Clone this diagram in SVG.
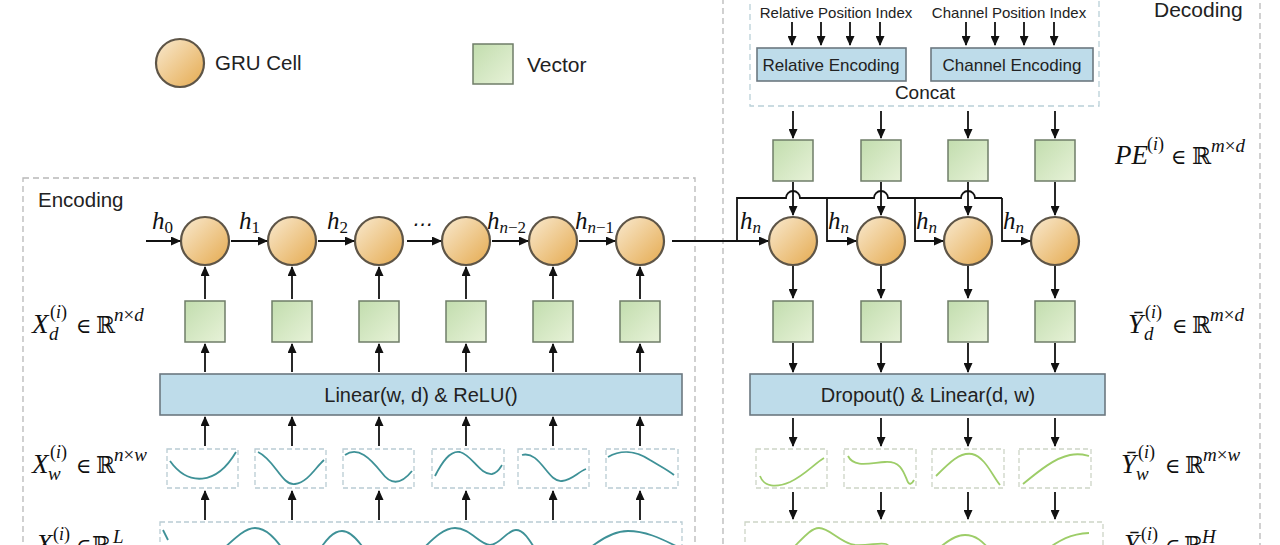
<svg xmlns="http://www.w3.org/2000/svg" width="1280" height="545" viewBox="0 0 1280 545">
<defs>
<linearGradient id="gc" x1="0" y1="0" x2="1" y2="1">
<stop offset="0" stop-color="#f9ead0"/><stop offset="1" stop-color="#e5aa4f"/>
</linearGradient>
<linearGradient id="gv" x1="0" y1="0" x2="1" y2="1">
<stop offset="0" stop-color="#c2ddae"/><stop offset="1" stop-color="#e7f2d8"/>
</linearGradient>
<marker id="ah" markerUnits="userSpaceOnUse" markerWidth="10" markerHeight="9" refX="9" refY="4.5" orient="auto">
<path d="M0,0 L10,4.5 L0,9 z" fill="#111"/>
</marker>
<style>
.ln{stroke:#111;stroke-width:1.8;fill:none}
.ar{stroke:#111;stroke-width:1.8;fill:none;marker-end:url(#ah)}
.cell{fill:url(#gc);stroke:#5e5547;stroke-width:2.2}
.vec{fill:url(#gv);stroke:#6f7d68;stroke-width:1.5}
.blk{fill:#bedcea;stroke:#6c7880;stroke-width:1.6}
.dash{fill:none;stroke:#b8b8b8;stroke-width:1.3;stroke-dasharray:6 4}
.pbox{fill:none;stroke:#b9d0d8;stroke-width:1.3;stroke-dasharray:6 4}
.wbox{fill:none;stroke:#b9ccd3;stroke-width:1.3;stroke-dasharray:5 3}
.gbox{fill:none;stroke:#cdd5c6;stroke-width:1.3;stroke-dasharray:5 3}
.tc{fill:none;stroke:#3e9197;stroke-width:1.8}
.gcv{fill:none;stroke:#9dcd68;stroke-width:1.8}
.sans{font-family:"Liberation Sans",Arial,sans-serif;fill:#222}
.m{font-family:"Liberation Serif","Times New Roman",serif;font-style:italic;fill:#111}
.r{font-family:"DejaVu Serif",serif;font-style:normal;fill:#111}
</style>
</defs>
<rect width="1280" height="545" fill="#ffffff"/>

<g id="regions">
<rect class="dash" x="23" y="178" width="672" height="400"/>
<rect class="dash" x="723" y="-20" width="537" height="600"/>
<rect class="pbox" x="750" y="-20" width="349" height="126"/>
<text class="sans" x="38" y="207" font-size="20.5">Encoding</text>
<text class="sans" x="1154" y="17" font-size="21">Decoding</text>
</g>

<g id="legend">
<circle class="cell" cx="180" cy="63" r="24"/>
<text class="sans" x="215" y="70" font-size="20.5">GRU Cell</text>
<rect class="vec" x="473" y="44" width="40" height="40"/>
<text class="sans" x="527" y="72" font-size="21">Vector</text>
</g>

<g id="pos-encoding">
<text class="sans" x="836" y="18" font-size="15" text-anchor="middle">Relative Position Index</text>
<text class="sans" x="1009" y="18" font-size="15" text-anchor="middle">Channel Position Index</text>
<rect class="blk" x="757" y="48" width="149" height="33"/>
<text class="sans" x="831" y="71" font-size="17" text-anchor="middle">Relative Encoding</text>
<rect class="blk" x="931" y="48" width="162" height="33"/>
<text class="sans" x="1012" y="71" font-size="17" text-anchor="middle">Channel Encoding</text>
<text class="sans" x="925" y="99" font-size="19" text-anchor="middle">Concat</text>
</g>

<g id="encoder-cells">
<circle class="cell" cx="205" cy="241" r="24"/>
<circle class="cell" cx="292" cy="241" r="24"/>
<circle class="cell" cx="379" cy="241" r="24"/>
<circle class="cell" cx="466" cy="241" r="24"/>
<circle class="cell" cx="553" cy="241" r="24"/>
<circle class="cell" cx="640" cy="241" r="24"/>
</g>
<g id="encoder-vectors">
<rect class="vec" x="185" y="301" width="40" height="41"/>
<rect class="vec" x="272" y="301" width="40" height="41"/>
<rect class="vec" x="359" y="301" width="40" height="41"/>
<rect class="vec" x="446" y="301" width="40" height="41"/>
<rect class="vec" x="533" y="301" width="40" height="41"/>
<rect class="vec" x="620" y="301" width="40" height="41"/>
</g>
<g id="encoder-linear">
<rect class="blk" x="160" y="374" width="522" height="41"/>
<text class="sans" x="421" y="402" font-size="20" text-anchor="middle">Linear(w, d) &amp; ReLU()</text>
</g>
<g id="encoder-windows">
<rect class="wbox" x="167" y="449" width="71" height="39"/>
<path class="tc" d="M170,461 C188,486 216,486 236,452"/>
<rect class="wbox" x="255" y="449" width="71" height="39"/>
<path class="tc" d="M258,452 C275,460 282,486 295,484 C308,482 315,468 324,460"/>
<rect class="wbox" x="343" y="449" width="71" height="39"/>
<path class="tc" d="M345,455 C358,446 370,458 382,473 C390,484 400,486 412,471"/>
<rect class="wbox" x="432" y="449" width="72" height="39"/>
<path class="tc" d="M435,476 C442,462 450,450 460,452 C472,455 480,475 492,474 C498,473 500,468 502,465"/>
<rect class="wbox" x="518" y="449" width="71" height="39"/>
<path class="tc" d="M522,455 C540,450 548,483 562,481 C572,480 578,472 586,469"/>
<rect class="wbox" x="606" y="449" width="72" height="39"/>
<path class="tc" d="M608,457 C620,450 635,450 650,460 C660,466 668,470 674,475"/>
</g>
<g id="encoder-series">
<rect class="wbox" x="160" y="522" width="522" height="40"/>
<path class="tc" d="M163,530 L168,540"/>
<path class="tc" d="M220,552 C235,538 245,528 255,528 C266,528 275,538 285,552"/>
<path class="tc" d="M318,552 C326,540 333,531 342,531 C351,531 359,541 366,552"/>
<path class="tc" d="M420,552 C435,536 445,528 455,528 C470,528 480,545 490,545 C500,545 507,530 516,530 C524,530 530,541 537,552"/>
<path class="tc" d="M585,552 C600,539 614,531 628,531 C645,531 660,538 676,546"/>
</g>

<g id="decoder-pe">
<rect class="vec" x="773" y="140" width="40" height="41"/>
<rect class="vec" x="861" y="140" width="40" height="41"/>
<rect class="vec" x="948" y="140" width="40" height="41"/>
<rect class="vec" x="1035" y="140" width="40" height="41"/>
</g>
<g id="decoder-cells">
<circle class="cell" cx="793" cy="241" r="24"/>
<circle class="cell" cx="881" cy="241" r="24"/>
<circle class="cell" cx="968" cy="241" r="24"/>
<circle class="cell" cx="1055" cy="241" r="24"/>
</g>
<g id="decoder-vectors">
<rect class="vec" x="773" y="301" width="40" height="41"/>
<rect class="vec" x="861" y="301" width="40" height="41"/>
<rect class="vec" x="948" y="301" width="40" height="41"/>
<rect class="vec" x="1035" y="301" width="40" height="41"/>
</g>
<g id="decoder-linear">
<rect class="blk" x="750" y="374" width="355" height="41"/>
<text class="sans" x="928" y="402" font-size="20" text-anchor="middle">Dropout() &amp; Linear(d, w)</text>
</g>
<g id="decoder-windows">
<rect class="gbox" x="756" y="449" width="71" height="39"/>
<path class="gcv" d="M760,476 C764,487 776,488 790,482 C805,475 814,464 824,458"/>
<rect class="gbox" x="844" y="449" width="72" height="39"/>
<path class="gcv" d="M848,456 C854,468 870,463 885,462 C900,461 903,470 907,480 C909,486 912,484 914,480"/>
<rect class="gbox" x="932" y="449" width="72" height="39"/>
<path class="gcv" d="M936,476 C950,462 960,452 972,454 C985,457 992,475 1000,485"/>
<rect class="gbox" x="1019" y="449" width="72" height="39"/>
<path class="gcv" d="M1023,484 C1040,470 1055,458 1070,455 C1080,453 1085,455 1089,456"/>
</g>
<g id="decoder-series">
<rect class="gbox" x="745" y="522" width="358" height="40"/>
<path class="gcv" d="M793,548 C803,538 811,528 819,528 C830,528 840,543 855,545 C868,546 880,542 886,544 C889,545 890,548 891,550"/>
<path class="gcv" d="M937,550 C948,540 956,535 965,535 C976,535 983,542 990,550"/>
<path class="gcv" d="M1046,550 C1060,540 1070,534 1089,533"/>
</g>

<g id="connectors">
<path class="ar" d="M146,241 H180"/>
<path class="ar" d="M231,241 H267"/>
<path class="ar" d="M318,241 H354"/>
<path class="ar" d="M407,241 H441"/>
<path class="ar" d="M492,241 H528"/>
<path class="ar" d="M579,241 H615"/>
<path class="ar" d="M205,299 V267"/><path class="ar" d="M292,299 V267"/><path class="ar" d="M379,299 V267"/><path class="ar" d="M466,299 V267"/><path class="ar" d="M553,299 V267"/><path class="ar" d="M640,299 V267"/>
<path class="ar" d="M205,372 V344"/><path class="ar" d="M292,372 V344"/><path class="ar" d="M379,372 V344"/><path class="ar" d="M466,372 V344"/><path class="ar" d="M553,372 V344"/><path class="ar" d="M640,372 V344"/>
<path class="ar" d="M205,446 V417"/><path class="ar" d="M292,446 V417"/><path class="ar" d="M379,446 V417"/><path class="ar" d="M466,446 V417"/><path class="ar" d="M553,446 V417"/><path class="ar" d="M640,446 V417"/>
<path class="ar" d="M205,520 V491"/><path class="ar" d="M292,520 V491"/><path class="ar" d="M379,520 V491"/><path class="ar" d="M466,520 V491"/><path class="ar" d="M553,520 V491"/><path class="ar" d="M640,520 V491"/>
<path class="ar" d="M672,241 H768"/>
<path class="ln" d="M737,241 V198 H786 A7,7 0 0 1 800,198 H874 A7,7 0 0 1 888,198 H961 A7,7 0 0 1 975,198 H1002"/>
<path class="ar" d="M827,198 V241 H856"/>
<path class="ar" d="M915,198 V241 H943"/>
<path class="ar" d="M1002,198 V241 H1030"/>
<path class="ar" d="M792,22 V45"/><path class="ar" d="M821,22 V45"/><path class="ar" d="M850,22 V45"/><path class="ar" d="M880,22 V45"/>
<path class="ar" d="M966,22 V45"/><path class="ar" d="M995,22 V45"/><path class="ar" d="M1024,22 V45"/><path class="ar" d="M1054,22 V45"/>
<path class="ar" d="M793,111 V138"/><path class="ar" d="M881,111 V138"/><path class="ar" d="M968,111 V138"/><path class="ar" d="M1055,111 V138"/>
<path class="ar" d="M793,182 V215"/><path class="ar" d="M881,182 V215"/><path class="ar" d="M968,182 V215"/><path class="ar" d="M1055,182 V215"/>
<path class="ar" d="M793,266 V298"/><path class="ar" d="M881,266 V298"/><path class="ar" d="M968,266 V298"/><path class="ar" d="M1055,266 V298"/>
<path class="ar" d="M793,343 V372"/><path class="ar" d="M881,343 V372"/><path class="ar" d="M968,343 V372"/><path class="ar" d="M1055,343 V372"/>
<path class="ar" d="M793,418 V446"/><path class="ar" d="M881,418 V446"/><path class="ar" d="M968,418 V446"/><path class="ar" d="M1055,418 V446"/>
<path class="ar" d="M793,492 V519"/><path class="ar" d="M881,492 V519"/><path class="ar" d="M968,492 V519"/><path class="ar" d="M1055,492 V519"/>
</g>

<g id="hidden-labels">
<text class="m" x="152" y="229" font-size="25">h<tspan dy="4" font-size="17" font-style="normal">0</tspan></text>
<text class="m" x="239" y="229" font-size="25">h<tspan dy="4" font-size="17" font-style="normal">1</tspan></text>
<text class="m" x="327" y="229" font-size="25">h<tspan dy="4" font-size="17" font-style="normal">2</tspan></text>
<text class="m" x="411" y="231" font-size="20" font-style="normal">⋯</text>
<text class="m" x="487" y="229" font-size="25">h<tspan dy="4" font-size="17">n</tspan><tspan font-size="17" font-style="normal">−2</tspan></text>
<text class="m" x="575" y="229" font-size="25">h<tspan dy="4" font-size="17">n</tspan><tspan font-size="17" font-style="normal">−1</tspan></text>
<text class="m" x="740" y="229" font-size="25">h<tspan dy="4" font-size="17">n</tspan></text>
<text class="m" x="828" y="229" font-size="25">h<tspan dy="4" font-size="17">n</tspan></text>
<text class="m" x="916" y="229" font-size="25">h<tspan dy="4" font-size="17">n</tspan></text>
<text class="m" x="1003" y="229" font-size="25">h<tspan dy="4" font-size="17">n</tspan></text>
</g>

<g id="math-labels">
<text class="m" x="32" y="333" font-size="27">X</text>
<text class="m" x="50" y="318" font-size="18"><tspan font-style="normal">(</tspan>i<tspan font-style="normal">)</tspan></text>
<text class="m" x="49" y="340" font-size="19">d</text>
<text class="r" x="76" y="333" font-size="21">∈</text>
<text class="r" x="96" y="333" font-size="23">ℝ</text>
<text class="m" x="114" y="321" font-size="19">n<tspan font-style="normal">×</tspan>d</text>

<text class="m" x="32" y="473" font-size="27">X</text>
<text class="m" x="50" y="458" font-size="18"><tspan font-style="normal">(</tspan>i<tspan font-style="normal">)</tspan></text>
<text class="m" x="48" y="480" font-size="19">w</text>
<text class="r" x="76" y="473" font-size="21">∈</text>
<text class="r" x="96" y="473" font-size="23">ℝ</text>
<text class="m" x="114" y="461" font-size="19">n<tspan font-style="normal">×</tspan>w</text>

<text class="m" x="36" y="553" font-size="27">X</text>
<text class="m" x="53" y="540" font-size="18"><tspan font-style="normal">(</tspan>i<tspan font-style="normal">)</tspan></text>
<text class="r" x="76" y="553" font-size="21">∈</text>
<text class="r" x="92" y="553" font-size="23">ℝ</text>
<text class="m" x="113" y="543" font-size="19">L</text>

<text class="m" x="1115" y="164" font-size="27">PE</text>
<text class="m" x="1147" y="150" font-size="18"><tspan font-style="normal">(</tspan>i<tspan font-style="normal">)</tspan></text>
<text class="r" x="1171" y="164" font-size="21">∈</text>
<text class="r" x="1192" y="164" font-size="23">ℝ</text>
<text class="m" x="1211" y="152" font-size="19">m<tspan font-style="normal">×</tspan>d</text>

<text class="m" x="1128" y="333" font-size="27">Ȳ</text>
<text class="m" x="1145" y="318" font-size="18"><tspan font-style="normal">(</tspan>i<tspan font-style="normal">)</tspan></text>
<text class="m" x="1144" y="340" font-size="19">d</text>
<text class="r" x="1172" y="333" font-size="21">∈</text>
<text class="r" x="1192" y="333" font-size="23">ℝ</text>
<text class="m" x="1210" y="321" font-size="19">m<tspan font-style="normal">×</tspan>d</text>

<text class="m" x="1121" y="473" font-size="27">Ȳ</text>
<text class="m" x="1138" y="458" font-size="18"><tspan font-style="normal">(</tspan>i<tspan font-style="normal">)</tspan></text>
<text class="m" x="1136" y="480" font-size="19">w</text>
<text class="r" x="1165" y="473" font-size="21">∈</text>
<text class="r" x="1185" y="473" font-size="23">ℝ</text>
<text class="m" x="1203" y="461" font-size="19">m<tspan font-style="normal">×</tspan>w</text>

<text class="m" x="1124" y="553" font-size="27">Ȳ</text>
<text class="m" x="1141" y="540" font-size="18"><tspan font-style="normal">(</tspan>i<tspan font-style="normal">)</tspan></text>
<text class="r" x="1165" y="553" font-size="21">∈</text>
<text class="r" x="1184" y="553" font-size="23">ℝ</text>
<text class="m" x="1202" y="543" font-size="19">H</text>
</g>
</svg>
